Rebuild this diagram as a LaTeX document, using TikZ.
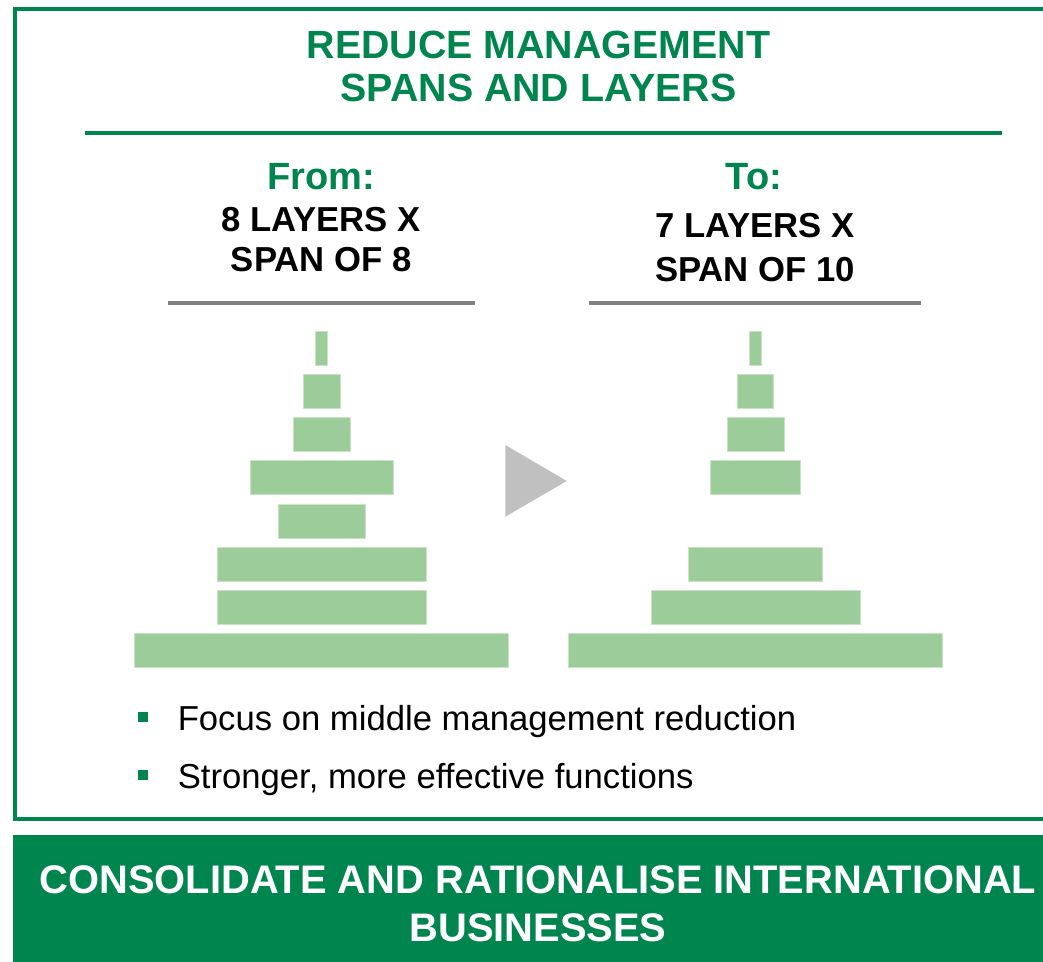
\documentclass[tikz,border=0pt]{standalone}
\usepackage{fontspec}
\setmainfont{Liberation Sans}
\definecolor{dkgreen}{RGB}{0,133,79}
\definecolor{ltgreen}{RGB}{156,204,153}
\definecolor{midgray}{RGB}{128,128,128}
\definecolor{ltgray}{RGB}{192,192,192}
\tikzset{
  bar/.style={fill=ltgreen, draw=ltgreen!55!white, line width=0.4pt, minimum height=25.5pt, inner sep=0pt},
  title/.style={dkgreen, align=center, inner sep=0pt, font=\fontsize{29.5}{32.25}\selectfont\bfseries},
  head/.style={dkgreen, inner sep=0pt, font=\fontsize{28.5}{30}\selectfont\bfseries},
  sub/.style={align=center, inner sep=0pt, font=\fontsize{26}{#1}\selectfont\bfseries},
  bullet/.style={fill=dkgreen, minimum size=7.5pt, inner sep=0pt},
  item/.style={inner sep=0pt, font=\fontsize{26}{30}\selectfont},
  band/.style={white, align=center, inner sep=0pt, font=\fontsize{29.9}{36}\selectfont\bfseries}
}
\begin{document}
\begin{tikzpicture}[x=0.75pt, y=-0.75pt]
  \useasboundingbox (0,0) rectangle (1043,962);
  \clip (0,0) rectangle (1043,962);

  \draw[dkgreen, line width=3pt] (1060,9) -- (15,9) -- (15,819) -- (1060,819);
  \draw[dkgreen, line width=2.6pt] (85,133) -- (1002,133);
  \node[title, anchor=base] (title) at (538.5,102) {REDUCE MANAGEMENT\\SPANS AND LAYERS};

  \node[head, anchor=base] (from) at (321,189.3) {From:};
  \node[head, anchor=base] (to) at (754,189.3) {To:};
  \node[sub=30, anchor=base] (fromtxt) at (321.2,272) {8 LAYERS X\\SPAN OF 8};
  \node[sub=33.3, anchor=base] (totxt) at (755,281.7) {7 LAYERS X\\SPAN OF 10};
  \draw[midgray, line width=3pt] (168,303) -- (475,303);
  \draw[midgray, line width=3pt] (589,303) -- (921,303);

  \foreach \w [count=\i] in {12.4,36.7,57.3,143,87.3,209.3,209.3,374.4}
    \node[bar, minimum width=\w*0.75pt] (L\i) at (321.5,{348+43.2*(\i-1)}) {};
  \foreach \i/\w in {1/12.4,2/36.3,3/57,4/90.7,6/133.3,7/209,8/374}
    \node[bar, minimum width=\w*0.75pt] (R\i) at (755.3,{348+43.2*(\i-1)}) {};
  \fill[ltgray] (505.3,445) -- (505.3,516.7) -- (566.7,481) -- cycle;

  \node[bullet] (b1) at (143.3,716.5) {};
  \node[bullet] (b2) at (143.3,774.5) {};
  \node[item, anchor=base west] (t1) at (177.5,730) {Focus on middle management reduction};
  \node[item, anchor=base west] (t2) at (177.5,788) {Stronger, more effective functions};

  \fill[dkgreen] (13,835) rectangle (1060,970);
  \node[band, anchor=base] (cons) at (538,941) {CONSOLIDATE AND RATIONALISE INTERNATIONAL\\BUSINESSES};
\end{tikzpicture}
\end{document}
